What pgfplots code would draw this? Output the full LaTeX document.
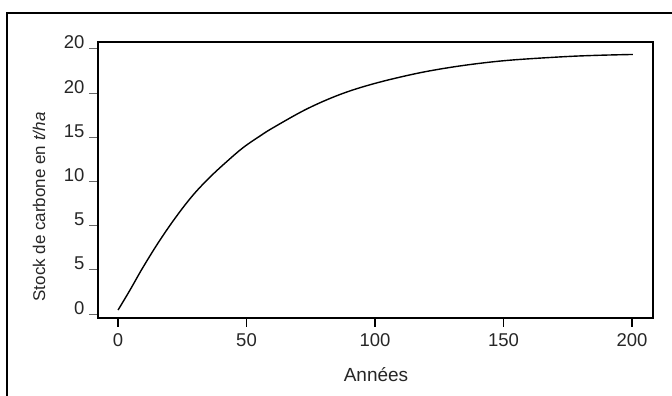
\documentclass[border=0pt]{standalone}
\usepackage{pgfplots}
\pgfplotsset{compat=1.18}
\usepackage{fontspec}
\setmainfont{Liberation Sans}
\begin{document}
\begin{tikzpicture}
\useasboundingbox (0,0) rectangle (672bp,396bp);
\draw[line width=2bp] (7bp,0) -- (7bp,383bp) -- (672bp,383bp);
\begin{axis}[
  at={(98bp,78bp)}, anchor=south west,
  width=555bp, height=276bp, scale only axis,
  xmin=-7.8, xmax=208.2, ymin=-0.45, ymax=30.79,
  xtick={0,50,100,150,200}, xticklabels={0,50,100,150,200},
  ytick={0,5,10,15,20,25,30}, yticklabels={0,5,5,10,15,20,20},
  tick align=outside, tick pos=left, major tick length=9bp,
  x tick style={black, line width=1.2bp},
  y tick style={black!60, line width=1bp},
  axis line style={black, line width=1.1bp},
  xticklabel style={font=\fontsize{18.5bp}{22bp}\selectfont, color=black!85, yshift=-3bp},
  yticklabel style={font=\fontsize{18.5bp}{22bp}\selectfont, color=black!85, anchor=base east, xshift=-1bp},
]
\addplot[black, line width=1.4bp, smooth, tension=0.6] coordinates {
(0,0.45) (4.67,2.72) (9.84,5.35) (16.34,8.38) (22.84,11.1) (29.3,13.5)
(35.8,15.5) (42.3,17.25) (48.75,18.85) (55.25,20.15) (60.43,21.1)
(73.4,23.2) (86.4,24.85) (99.3,26.05) (114.9,27.15) (127.9,27.85)
(140.9,28.38) (153.8,28.76) (173.2,29.12) (186.4,29.28) (200.4,29.38)
};
\end{axis}
\node[rotate=90, font=\fontsize{17bp}{20bp}\selectfont, color=black!85] at (39bp,189bp) {Stock de carbone en \textit{t/ha}};
\node[font=\fontsize{19bp}{23bp}\selectfont, color=black!85] at (376bp,21bp) {Années};
\end{tikzpicture}
\end{document}
